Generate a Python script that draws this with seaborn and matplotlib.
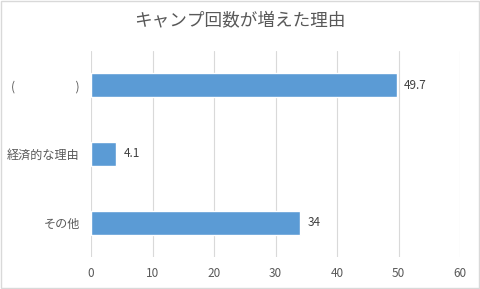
import matplotlib
matplotlib.use("Agg")
import matplotlib.pyplot as plt
import seaborn as sns
import pandas as pd

categories = ["(　　　　　)", "経済的な理由", "その他"]
values = [49.7, 4.1, 34]
value_labels = ["49.7", "4.1", "34"]
xticks = [0, 10, 20, 30, 40, 50, 60]

sns.set_theme(style="white")
plt.rcParams['font.family'] = ['Noto Sans CJK JP', 'DejaVu Sans']

df = pd.DataFrame({"cat": categories, "val": values})

fig = plt.figure(figsize=(4.8, 2.89), dpi=100)
fig.patch.set_facecolor("white")
ax = fig.add_axes([0.1896, 0.111, 0.7688, 0.713])
sns.barplot(data=df, x="val", y="cat", orient="h", color="#5B9BD5",
            saturation=1, width=0.35, ax=ax)
ax.set_xlim(0, 60)
ax.set_xticks(xticks)
ax.set_xticklabels([str(t) for t in xticks], color="#595959", fontsize=8.5)
ax.tick_params(axis="x", length=0, pad=7)
ax.tick_params(axis="y", length=0, pad=8, labelsize=8.7, labelcolor="#595959")
ax.set_xlabel("")
ax.set_ylabel("")
ax.grid(axis="x", color="#D9D9D9", linewidth=0.8)
ax.set_axisbelow(True)
for s in ax.spines.values():
    s.set_visible(False)
for i, (v, lab) in enumerate(zip(values, value_labels)):
    ax.text(v + 1.2, i, lab, va="center", ha="left", fontsize=8.5, color="#404040")
fig.text(0.5, 0.925, "キャンプ回数が増えた理由", ha="center", va="center",
         fontsize=12.7, color="#595959")
# outer border
rect = plt.Rectangle((0.002, 0.003), 0.996, 0.994, transform=fig.transFigure,
                     fill=False, edgecolor="#D9D9D9", linewidth=1)
fig.patches.append(rect)
fig.savefig("out.png", dpi=100)
